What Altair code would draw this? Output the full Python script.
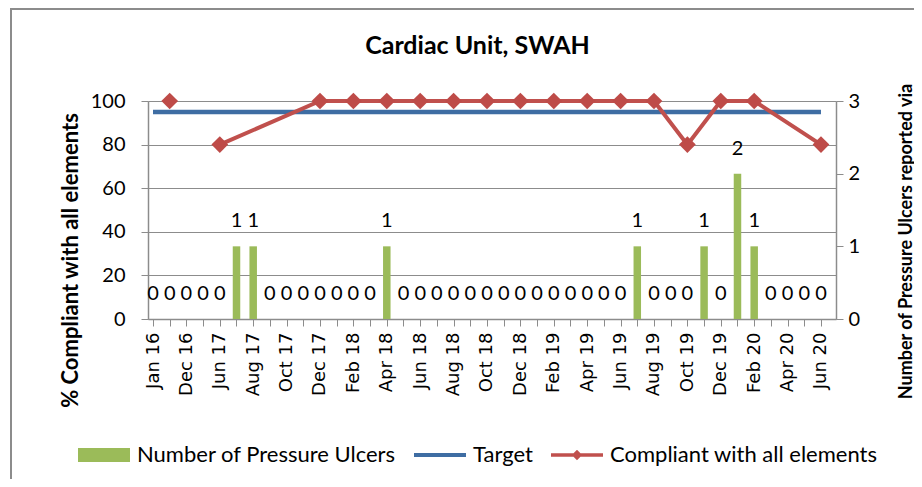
import altair as alt
import pandas as pd

chart_title = "Cardiac Unit, SWAH"

months = ["Jan 16", "Jun 16", "Dec 16", "Mar 17", "Jun 17", "Jul 17", "Aug 17", "Sep 17",
          "Oct 17", "Nov 17", "Dec 17", "Jan 18", "Feb 18", "Mar 18", "Apr 18", "May 18",
          "Jun 18", "Jul 18", "Aug 18", "Sep 18", "Oct 18", "Nov 18", "Dec 18", "Jan 19",
          "Feb 19", "Mar 19", "Apr 19", "May 19", "Jun 19", "Jul 19", "Aug 19", "Sep 19",
          "Oct 19", "Nov 19", "Dec 19", "Jan 20", "Feb 20", "Mar 20", "Apr 20", "May 20",
          "Jun 20"]

ulcers = [0, 0, 0, 0, 0, 1, 1, 0, 0, 0, 0, 0, 0, 0, 1, 0, 0, 0, 0, 0, 0, 0, 0, 0, 0, 0, 0,
          0, 0, 1, 0, 0, 0, 1, 0, 2, 1, 0, 0, 0, 0]

compliance = [None, 100, None, None, 80, None, None, None, None, None, 100, None, 100, None,
              100, None, 100, None, 100, None, 100, None, 100, None, 100, None, 100, None,
              100, None, 100, None, 80, None, 100, None, 100, None, None, None, 80]

target = [95, 95, 95, 95, 95, 95, 95, 95, 95, 95, 95, 95, 95, 95, 95, 95, 95, 95, 95, 95, 95,
          95, 95, 95, 95, 95, 95, 95, 95, 95, 95, 95, 95, 95, 95, 95, 95, 95, 95, 95, 95]

# line break in the compliance series (first point stands alone)
compliance_segment = [0, 0, 0, 0, 1, 1, 1, 1, 1, 1, 1, 1, 1, 1, 1, 1, 1, 1, 1, 1, 1, 1, 1, 1,
                      1, 1, 1, 1, 1, 1, 1, 1, 1, 1, 1, 1, 1, 1, 1, 1, 1]

series = ["Number of Pressure Ulcers", "Target", "Compliant with all elements"]
series_colors = ["#9BBB59", "#3E6DA3", "#C0504D"]
legend_paths = [
    "M-1,-0.27L1,-0.27L1,0.27L-1,0.27Z",
    "M-1,-0.08L1,-0.08L1,0.08L-1,0.08Z",
    "M-1,-0.07L1,-0.07L1,0.07L-1,0.07Z M0,-0.2L0.2,0L0,0.2L-0.2,0Z",
]

left_title = "% Compliant with all elements"
right_title = ["Number of Pressure Ulcers reported via", "Datix prior to quality assurance"]

df = pd.DataFrame({
    "idx": list(range(len(months))),
    "month": months,
    "ulcers": ulcers,
    "compliance": compliance,
    "target": target,
    "seg": compliance_segment,
})

GRAY = "#8C8C8C"
month_arr = "[" + ",".join("'" + m + "'" for m in months) + "]"

x_axis = alt.Axis(
    values=list(range(len(months))),
    labelExpr=f"datum.value % 2 == 0 ? {month_arr}[datum.value] : ''",
    labelAngle=270, labelFont="DejaVu Sans", labelFontSize=18, labelColor="black",
    labelPadding=6, labelOverlap=False, labelFlush=False, labelBound=False,
    tickSize=7, tickColor=GRAY, domainColor=GRAY, domainWidth=1.5, grid=False, title=None,
)
x_enc = alt.X("idx:Q", scale=alt.Scale(domain=[0, 40.6], nice=False, zero=False), axis=x_axis)

left_axis = alt.Axis(
    values=[0, 20, 40, 60, 80, 100], format="d", orient="left",
    labelFont="Lato", labelFontSize=20, labelColor="black", labelPadding=16,
    tickSize=7, tickColor=GRAY, domainColor=GRAY, domainWidth=1.5,
    grid=True, gridColor=GRAY, gridWidth=1.2,
    title=left_title, titleFont="Lato", titleFontSize=22, titleFontWeight="bold",
    titleColor="black", titleAngle=270, titleAlign="center", titleBaseline="middle",
    titleX=-78, titleY=159,
)
right_axis = alt.Axis(
    values=[0, 1, 2, 3], format="d", orient="right",
    labelFont="Lato", labelFontSize=20, labelColor="black", labelPadding=5,
    tickSize=7, tickColor=GRAY, domainColor=GRAY, domainWidth=1.5, grid=False,
    title=right_title, titleFont="Lato", titleFontSize=18, titleFontWeight="bold",
    titleColor="black", titleAngle=270, titleAlign="center", titleBaseline="middle",
    titleX=70, titleY=140, titleLineHeight=23,
)

base = alt.Chart(df)

target_line = base.mark_line(color=series_colors[1], strokeWidth=4.5).encode(
    x=x_enc,
    y=alt.Y("target:Q", scale=alt.Scale(domain=[0, 100], nice=False), axis=left_axis),
)
comp_line = base.transform_filter("datum.compliance != null").mark_line(
    color=series_colors[2], strokeWidth=4,
    point=alt.OverlayMarkDef(shape="diamond", size=280, filled=True, color="#BE4B48"),
).encode(
    x=x_enc,
    y=alt.Y("compliance:Q", scale=alt.Scale(domain=[0, 100], nice=False), axis=left_axis),
    detail="seg:N",
)

bars = base.mark_bar(color=series_colors[0], size=7.5).encode(
    x=x_enc,
    y=alt.Y("ulcers:Q", scale=alt.Scale(domain=[0, 3], nice=False), axis=right_axis),
)
bar_labels = base.mark_text(font="Lato", fontSize=20, color="black", dy=-25,
                            baseline="middle").encode(
    x=x_enc,
    y=alt.Y("ulcers:Q", scale=alt.Scale(domain=[0, 3], nice=False), axis=right_axis),
    text=alt.Text("ulcers:Q", format="d"),
)

legend = alt.Legend(
    orient="none", legendX=-70, legendY=328, direction="horizontal", title=None,
    symbolSize=2704, symbolStrokeWidth=0, symbolOpacity=1,
    labelFont="Lato", labelFontSize=22, labelColor="black", labelOffset=7,
    labelLimit=400, columnPadding=18, padding=0,
)
legend_layer = alt.Chart(pd.DataFrame({"series": series})).mark_point(
    filled=True, opacity=0
).encode(
    color=alt.Color("series:N", scale=alt.Scale(domain=series, range=series_colors),
                    legend=legend),
    shape=alt.Shape("series:N", scale=alt.Scale(domain=series, range=legend_paths),
                    legend=legend),
)

title_layer = alt.Chart(alt.Data(values=[{"t": chart_title}])).mark_text(
    font="Lato", fontSize=25, fontWeight="bold", color="black", baseline="middle"
).encode(x=alt.value(329.5), y=alt.value(-55), text="t:N")

border_left = alt.Chart(alt.Data(values=[{}])).mark_rule(color=GRAY, strokeWidth=2).encode(
    x=alt.value(-137), y=alt.value(-93), y2=alt.value(380))
border_top = alt.Chart(alt.Data(values=[{}])).mark_rule(color=GRAY, strokeWidth=2).encode(
    x=alt.value(-138), x2=alt.value(780), y=alt.value(-92))

main = alt.layer(
    alt.layer(target_line, comp_line),
    alt.layer(bars, bar_labels),
).resolve_scale(y="independent")

chart = alt.layer(
    border_left, border_top, main, legend_layer, title_layer
).properties(
    width=688, height=218,
    autosize=alt.AutoSizeParams(type="none"),
    padding={"left": 140, "top": 93, "right": 78, "bottom": 160},
).configure_view(stroke=None).configure(background="white")

chart.save("out.html", embed_options={"renderer": "svg", "actions": False})
